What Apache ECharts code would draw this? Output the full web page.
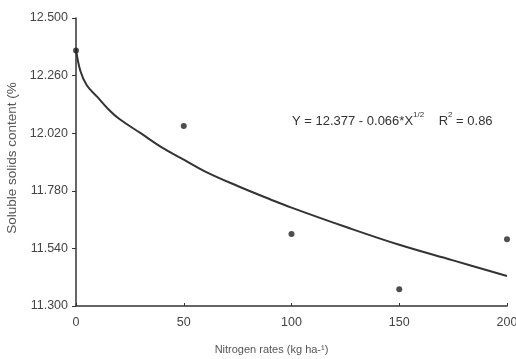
<!DOCTYPE html>
<html>
<head>
<meta charset="utf-8">
<script src="https://cdn.jsdelivr.net/npm/echarts@6/dist/echarts.min.js"></script>
<style>
  html, body {margin: 0; padding: 0; background: #fff;}
  #main {width: 516px; height: 359px;}
</style>
</head>
<body>
<div id="main"></div>
<script>
// observed means
const rates = [0, 50, 100, 150, 200];
const solids = [12.365, 12.05, 11.6, 11.37, 11.578];

// fitted curve
const curveX = [0, 2, 5, 10, 15, 20, 30, 40, 50, 60, 75, 90, 100, 125, 150, 175, 200];
const curveY = [12.37, 12.28, 12.22, 12.17, 12.12, 12.08, 12.02, 11.96, 11.91, 11.86, 11.80, 11.745, 11.71, 11.63, 11.555, 11.49, 11.425];

const yTicks = [11.3, 11.54, 11.78, 12.02, 12.26, 12.5];
const xTicks = [0, 50, 100, 150, 200];

let chartDom = document.getElementById('main');
let myChart = echarts.init(chartDom);
let option;

const axisFont = {fontFamily: 'Liberation Sans', fontSize: 12.5, color: '#444'};

option = {
  animation: false,
  grid: {left: 76, right: 9, top: 18, bottom: 53, outerBoundsMode: 'none'},
  xAxis: {
    type: 'value',
    min: 0,
    max: 200,
    interval: 50,
    name: 'Nitrogen rates (kg ha-\u00b9)',
    nameLocation: 'middle',
    nameGap: 38,
    nameTextStyle: {fontFamily: 'Liberation Sans', fontSize: 11, color: '#555', padding: [0, 40, 0, 0]},
    axisLine: {lineStyle: {color: '#333', width: 1.5}},
    axisTick: {inside: true, length: 3, lineStyle: {color: '#333'}, customValues: xTicks},
    axisLabel: Object.assign({margin: 10, customValues: xTicks}, axisFont),
    splitLine: {show: false},
  },
  yAxis: {
    type: 'value',
    min: 11.3,
    max: 12.5,
    name: 'Soluble solids content (%',
    nameLocation: 'middle',
    nameGap: 54,
    nameTextStyle: {fontFamily: 'Liberation Sans', fontSize: 13.5, color: '#555', padding: [0, 0, 0, 8]},
    axisLine: {show: true, lineStyle: {color: '#333', width: 1.5}},
    axisTick: {show: true, length: 4, lineStyle: {color: '#333'}, customValues: yTicks},
    axisLabel: Object.assign({
      margin: 8,
      customValues: yTicks,
      formatter: (v) => v.toFixed(3),
    }, axisFont),
    splitLine: {show: false},
  },
  graphic: [
    {
      type: 'text',
      left: 292,
      top: 111,
      style: {
        text: '{a|Y = 12.377 - 0.066*X}{s|1/2}{a|    R}{s|2}{a| = 0.86}',
        rich: {
          a: {fontFamily: 'Liberation Sans', fontSize: 13, fill: '#333', lineHeight: 17, verticalAlign: 'bottom'},
          s: {fontFamily: 'Liberation Sans', fontSize: 8, fill: '#333', lineHeight: 17, verticalAlign: 'top', padding: [0, 0, 6, 0]},
        },
      },
    },
  ],
  series: [
    {
      type: 'line',
      data: curveX.map((x, i) => [x, curveY[i]]),
      smooth: 0.4,
      showSymbol: false,
      lineStyle: {color: '#333', width: 2},
      z: 2,
    },
    {
      type: 'scatter',
      data: rates.map((x, i) => [x, solids[i]]),
      symbolSize: 6,
      itemStyle: {color: '#222'},
      z: 3,
    },
  ],
};
option && myChart.setOption(option);
</script>
</body>
</html>
